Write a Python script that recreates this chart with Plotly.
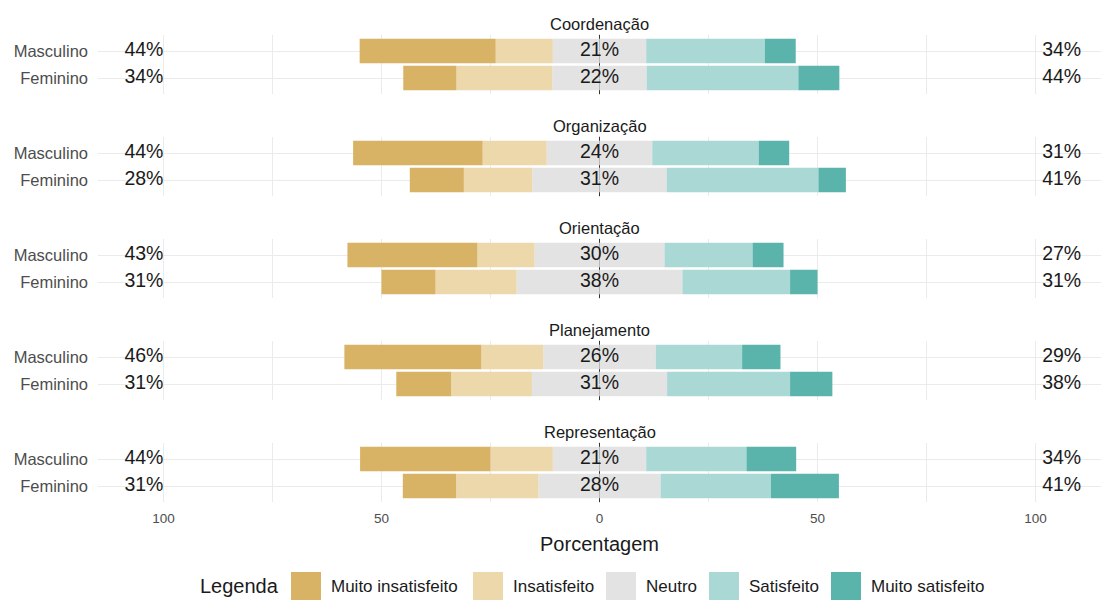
import plotly.graph_objects as go
from plotly.subplots import make_subplots

# Itens avaliados (um painel por item) e grupos
itens = ["Coordenação", "Organização", "Orientação", "Planejamento", "Representação"]
grupos = ["Masculino", "Feminino"]
niveis = ["Muito insatisfeito", "Insatisfeito", "Neutro", "Satisfeito", "Muito satisfeito"]

# Porcentagens por item: [Masculino, Feminino]
muito_insatisfeito = [[31.2, 12.2], [29.7, 12.4], [29.8, 12.4], [31.4, 12.6], [29.9, 12.2]]
insatisfeito = [[13.1, 22.0], [14.7, 15.7], [13.1, 18.6], [14.2, 18.5], [14.3, 18.9]]
neutro = [[21.4, 21.6], [24.2, 30.8], [29.8, 38.0], [25.8, 31.0], [21.4, 28.0]]
satisfeito = [[27.2, 34.8], [24.4, 34.8], [20.2, 24.7], [19.8, 28.2], [23.0, 25.3]]
muito_satisfeito = [[7.1, 9.4], [7.0, 6.3], [7.1, 6.3], [8.8, 9.7], [11.4, 15.6]]

eixo_vals = [-100, -50, 0, 50, 100]
eixo_txt = ["100", "50", "0", "50", "100"]

cores = ["#D8B365", "#ECD8AA", "#E3E3E3", "#AAD9D5", "#5AB4AC"]
FONTE = "Liberation Sans, Arial, sans-serif"
W, H = 1101, 610

fig = make_subplots(rows=5, cols=1, shared_xaxes=True)

for k in range(len(itens)):
    row = k + 1
    mi, ins, ne = muito_insatisfeito[k], insatisfeito[k], neutro[k]
    sa, ms = satisfeito[k], muito_satisfeito[k]
    # lado negativo: metade do neutro, depois insatisfeito, depois muito insatisfeito
    pilha = [
        ([-v / 2 for v in ne], cores[2]),
        ([v / 2 for v in ne], cores[2]),
        ([-v for v in ins], cores[1]),
        ([-v for v in mi], cores[0]),
        (sa, cores[3]),
        (ms, cores[4]),
    ]
    for xs, cor in pilha:
        fig.add_trace(go.Bar(y=grupos, x=xs, orientation="h", width=0.9,
                             marker=dict(color=cor, line=dict(width=0)),
                             showlegend=False, hoverinfo="skip"), row=row, col=1)

    baixo = [f"{round(a + b)}%" for a, b in zip(mi, ins)]
    alto = [f"{round(a + b)}%" for a, b in zip(sa, ms)]
    meio = [f"{round(v)}%" for v in ne]
    txt = dict(size=19.5, color="#1A1A1A", family=FONTE)
    fig.add_trace(go.Scatter(x=[-100, -100], y=grupos, mode="text", text=baixo,
                             textposition="middle left", textfont=txt,
                             showlegend=False, hoverinfo="skip"), row=row, col=1)
    fig.add_trace(go.Scatter(x=[0, 0], y=grupos, mode="text", text=meio,
                             textposition="middle center", textfont=txt,
                             showlegend=False, hoverinfo="skip"), row=row, col=1)
    fig.add_trace(go.Scatter(x=[101.5, 101.5], y=grupos, mode="text", text=alto,
                             textposition="middle right", textfont=txt,
                             showlegend=False, hoverinfo="skip"), row=row, col=1)

    # domínio vertical de cada painel (em px a partir do topo)
    topo = 34.8 + 102 * k
    base = 94.2 + 102 * k
    yname = "yaxis" if k == 0 else f"yaxis{row}"
    fig.layout[yname].domain = [1 - base / H, 1 - topo / H]

    suf = "" if k == 0 else str(row)
    # linha do zero por baixo das barras
    fig.add_shape(type="line", x0=0, x1=0, y0=0, y1=1, xref=f"x{suf}",
                  yref=f"y{suf} domain", layer="below",
                  line=dict(color="#333333", width=1))
    fig.add_annotation(text=itens[k], x=0, xref=f"x{suf}", y=1, yref=f"y{suf} domain",
                       yanchor="bottom", showarrow=False, yshift=0,
                       font=dict(size=16.5, color="#1A1A1A", family=FONTE))

# zeroline transparente só para não desenhar a grade clara em x = 0
fig.update_xaxes(domain=[98 / W, 1], range=[-115, 115], tickvals=eixo_vals, ticktext=eixo_txt,
                 showgrid=True, gridcolor="#EBEBEB", gridwidth=1,
                 zeroline=True, zerolinecolor="rgba(0,0,0,0)", zerolinewidth=1,
                 minor=dict(tickvals=[-75, -25, 25, 75], showgrid=True,
                            gridcolor="#EBEBEB", gridwidth=1),
                 tickfont=dict(size=13.5, color="#4D4D4D", family=FONTE),
                 ticks="", ticklabelstandoff=6)
fig.update_xaxes(title=dict(text="Porcentagem", standoff=12,
                            font=dict(size=20, color="#1A1A1A", family=FONTE)),
                 row=5, col=1)
fig.update_yaxes(categoryorder="array", categoryarray=["Feminino", "Masculino"],
                 range=[-0.6, 1.6], showgrid=True, gridcolor="#EBEBEB", gridwidth=1,
                 zeroline=False, ticks="", ticklabelstandoff=9,
                 tickfont=dict(size=16.5, color="#4D4D4D", family=FONTE))

# legenda desenhada abaixo do gráfico
leg_x = [291, 473, 606, 709, 831]
for nome, cor, x0 in zip(niveis, cores, leg_x):
    fig.add_shape(type="rect", xref="paper", yref="paper", x0=x0 / W, x1=(x0 + 30) / W,
                  y0=1 - 600 / H, y1=1 - 572 / H, fillcolor=cor, line=dict(width=0))
    fig.add_annotation(text=nome, xref="paper", yref="paper", x=(x0 + 38) / W,
                       y=1 - 586 / H, xanchor="left", yanchor="middle", showarrow=False,
                       font=dict(size=17, color="#1A1A1A", family=FONTE))
fig.add_annotation(text="Legenda", xref="paper", yref="paper", x=281 / W, y=1 - 586 / H,
                   xanchor="right", yanchor="middle", showarrow=False,
                   font=dict(size=20, color="#1A1A1A", family=FONTE))

fig.update_layout(width=W, height=H, barmode="relative", bargap=0.1,
                  margin=dict(l=0, r=0, t=0, b=0),
                  plot_bgcolor="white", paper_bgcolor="white",
                  font=dict(family=FONTE))

fig.write_html("out.html", config={"displayModeBar": False},
               post_script="document.body.style.margin='0';")
